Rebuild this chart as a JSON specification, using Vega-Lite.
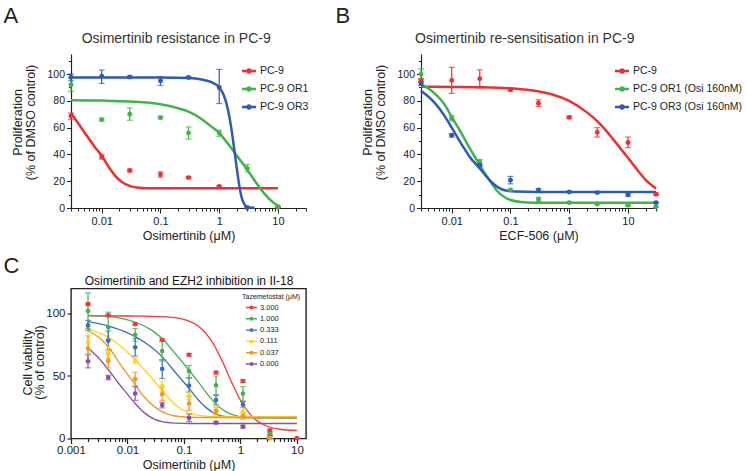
{
"$schema": "https://vega.github.io/schema/vega-lite/v6.json",
"background": "white",
"padding": {"left": 2, "top": 4, "right": 5, "bottom": 5},
"config": {"font": "Liberation Sans", "view": {"stroke": null},
  "axis": {"grid": false, "labelFont": "Liberation Sans", "titleFont": "Liberation Sans", "labelColor": "#222", "titleColor": "#222", "titleFontWeight": "normal", "domainColor": "#222", "tickColor": "#222"},
  "legend": {"labelFont": "Liberation Sans", "titleFont": "Liberation Sans", "labelColor": "#222", "titleColor": "#222"}},
"datasets": {
"aCurve": [
{"s":"PC-9","x":0.003,"y":71},{"s":"PC-9","x":0.005,"y":57},{"s":"PC-9","x":0.0075,"y":46},{"s":"PC-9","x":0.01,"y":39},{"s":"PC-9","x":0.013,"y":31},{"s":"PC-9","x":0.017,"y":24},{"s":"PC-9","x":0.022,"y":19.5},{"s":"PC-9","x":0.03,"y":16.5},{"s":"PC-9","x":0.04,"y":15.3},{"s":"PC-9","x":0.06,"y":14.8},{"s":"PC-9","x":0.1,"y":14.7},{"s":"PC-9","x":1,"y":14.7},{"s":"PC-9","x":10,"y":14.7},
{"s":"PC-9 OR1","x":0.003,"y":80.5},{"s":"PC-9 OR1","x":0.01,"y":80.2},{"s":"PC-9 OR1","x":0.03,"y":79.5},{"s":"PC-9 OR1","x":0.1,"y":77.5},{"s":"PC-9 OR1","x":0.2,"y":74.5},{"s":"PC-9 OR1","x":0.3,"y":72},{"s":"PC-9 OR1","x":0.5,"y":66.5},{"s":"PC-9 OR1","x":0.7,"y":61.5},{"s":"PC-9 OR1","x":1,"y":56},{"s":"PC-9 OR1","x":1.5,"y":46.5},{"s":"PC-9 OR1","x":2,"y":39},{"s":"PC-9 OR1","x":3,"y":28.5},{"s":"PC-9 OR1","x":4,"y":20.5},{"s":"PC-9 OR1","x":5,"y":14.5},{"s":"PC-9 OR1","x":7,"y":7},{"s":"PC-9 OR1","x":10,"y":1.5},
{"s":"PC-9 OR3","x":0.003,"y":97.5},{"s":"PC-9 OR3","x":0.1,"y":97.4},{"s":"PC-9 OR3","x":0.3,"y":97},{"s":"PC-9 OR3","x":0.5,"y":96},{"s":"PC-9 OR3","x":0.7,"y":94.3},{"s":"PC-9 OR3","x":1,"y":90},{"s":"PC-9 OR3","x":1.2,"y":84},{"s":"PC-9 OR3","x":1.4,"y":74},{"s":"PC-9 OR3","x":1.6,"y":60},{"s":"PC-9 OR3","x":1.8,"y":44},{"s":"PC-9 OR3","x":2,"y":29},{"s":"PC-9 OR3","x":2.2,"y":16.5},{"s":"PC-9 OR3","x":2.4,"y":8},{"s":"PC-9 OR3","x":2.7,"y":2.5},{"s":"PC-9 OR3","x":3,"y":0.8},{"s":"PC-9 OR3","x":4,"y":0.2}
],
"aPts": [
{"s":"PC-9","x":0.003,"y":68.6,"lo":66,"hi":71},{"s":"PC-9","x":0.01,"y":38.3,"lo":36.5,"hi":40},{"s":"PC-9","x":0.03,"y":28,"lo":27,"hi":29},{"s":"PC-9","x":0.1,"y":25,"lo":23,"hi":27},{"s":"PC-9","x":0.3,"y":22.7,"lo":22,"hi":23.4},{"s":"PC-9","x":1,"y":16,"lo":15.3,"hi":16.7},{"s":"PC-9","x":3,"y":0.3,"lo":0,"hi":0.6},{"s":"PC-9","x":10,"y":0.5,"lo":0,"hi":1},
{"s":"PC-9 OR1","x":0.003,"y":92,"lo":87,"hi":97},{"s":"PC-9 OR1","x":0.01,"y":66,"lo":65,"hi":67},{"s":"PC-9 OR1","x":0.03,"y":70,"lo":65.5,"hi":74.8},{"s":"PC-9 OR1","x":0.1,"y":67.5,"lo":66.5,"hi":68.5},{"s":"PC-9 OR1","x":0.3,"y":56,"lo":51.5,"hi":60.5},{"s":"PC-9 OR1","x":1,"y":56,"lo":53.5,"hi":58},{"s":"PC-9 OR1","x":3,"y":29.6,"lo":27,"hi":32.5},{"s":"PC-9 OR1","x":10,"y":1,"lo":0.5,"hi":1.5},
{"s":"PC-9 OR3","x":0.003,"y":97.6,"lo":95,"hi":100},{"s":"PC-9 OR3","x":0.01,"y":98.5,"lo":93,"hi":103},{"s":"PC-9 OR3","x":0.03,"y":97.8,"lo":97,"hi":98.6},{"s":"PC-9 OR3","x":0.1,"y":95,"lo":91.5,"hi":98},{"s":"PC-9 OR3","x":0.3,"y":97.5,"lo":96.8,"hi":98.2},{"s":"PC-9 OR3","x":1,"y":90,"lo":78,"hi":103.5},{"s":"PC-9 OR3","x":3,"y":0.3,"lo":0,"hi":0.6}
],
"bCurve": [
{"s":"PC-9","x":0.003,"y":90.5},{"s":"PC-9","x":0.01,"y":90.4},{"s":"PC-9","x":0.03,"y":90.2},{"s":"PC-9","x":0.1,"y":89.4},{"s":"PC-9","x":0.3,"y":87.1},{"s":"PC-9","x":0.5,"y":85},{"s":"PC-9","x":1,"y":80},{"s":"PC-9","x":2,"y":71.4},{"s":"PC-9","x":3,"y":64.8},{"s":"PC-9","x":5,"y":54},{"s":"PC-9","x":7,"y":46},{"s":"PC-9","x":10,"y":37.5},{"s":"PC-9","x":15,"y":27.5},{"s":"PC-9","x":20,"y":21},{"s":"PC-9","x":30,"y":14.5},
{"s":"PC-9 OR1 (Osi 160nM)","x":0.003,"y":92.5},{"s":"PC-9 OR1 (Osi 160nM)","x":0.005,"y":86},{"s":"PC-9 OR1 (Osi 160nM)","x":0.0075,"y":77.5},{"s":"PC-9 OR1 (Osi 160nM)","x":0.01,"y":68},{"s":"PC-9 OR1 (Osi 160nM)","x":0.015,"y":55},{"s":"PC-9 OR1 (Osi 160nM)","x":0.02,"y":45},{"s":"PC-9 OR1 (Osi 160nM)","x":0.03,"y":32},{"s":"PC-9 OR1 (Osi 160nM)","x":0.045,"y":20},{"s":"PC-9 OR1 (Osi 160nM)","x":0.06,"y":12.5},{"s":"PC-9 OR1 (Osi 160nM)","x":0.08,"y":8},{"s":"PC-9 OR1 (Osi 160nM)","x":0.1,"y":6},{"s":"PC-9 OR1 (Osi 160nM)","x":0.15,"y":4.5},{"s":"PC-9 OR1 (Osi 160nM)","x":0.25,"y":4},{"s":"PC-9 OR1 (Osi 160nM)","x":1,"y":3.9},{"s":"PC-9 OR1 (Osi 160nM)","x":30,"y":3.9},
{"s":"PC-9 OR3 (Osi 160nM)","x":0.003,"y":87.5},{"s":"PC-9 OR3 (Osi 160nM)","x":0.005,"y":79},{"s":"PC-9 OR3 (Osi 160nM)","x":0.0075,"y":69},{"s":"PC-9 OR3 (Osi 160nM)","x":0.01,"y":60},{"s":"PC-9 OR3 (Osi 160nM)","x":0.015,"y":47},{"s":"PC-9 OR3 (Osi 160nM)","x":0.02,"y":38.5},{"s":"PC-9 OR3 (Osi 160nM)","x":0.03,"y":29.5},{"s":"PC-9 OR3 (Osi 160nM)","x":0.04,"y":23},{"s":"PC-9 OR3 (Osi 160nM)","x":0.05,"y":18.5},{"s":"PC-9 OR3 (Osi 160nM)","x":0.065,"y":14.8},{"s":"PC-9 OR3 (Osi 160nM)","x":0.08,"y":13.2},{"s":"PC-9 OR3 (Osi 160nM)","x":0.12,"y":12.3},{"s":"PC-9 OR3 (Osi 160nM)","x":0.3,"y":12},{"s":"PC-9 OR3 (Osi 160nM)","x":30,"y":12}
],
"bPts": [
{"s":"PC-9","x":0.003,"y":95.1,"lo":93.6,"hi":96.6},{"s":"PC-9","x":0.01,"y":95.3,"lo":85.6,"hi":105},{"s":"PC-9","x":0.03,"y":96.6,"lo":89.7,"hi":103.2},{"s":"PC-9","x":0.1,"y":88.3,"lo":87.3,"hi":89.3},{"s":"PC-9","x":0.3,"y":78.3,"lo":75.8,"hi":80.8},{"s":"PC-9","x":1,"y":67.7,"lo":66.7,"hi":68.7},{"s":"PC-9","x":3,"y":56.5,"lo":53,"hi":60},{"s":"PC-9","x":10,"y":49,"lo":45,"hi":53},{"s":"PC-9","x":30,"y":10.3,"lo":9.5,"hi":11.1},
{"s":"PC-9 OR1 (Osi 160nM)","x":0.003,"y":100,"lo":96,"hi":104},{"s":"PC-9 OR1 (Osi 160nM)","x":0.01,"y":67,"lo":65,"hi":69},{"s":"PC-9 OR1 (Osi 160nM)","x":0.03,"y":34.6,"lo":33,"hi":36.2},{"s":"PC-9 OR1 (Osi 160nM)","x":0.1,"y":13.5,"lo":12.8,"hi":14.2},{"s":"PC-9 OR1 (Osi 160nM)","x":0.3,"y":6.5,"lo":5,"hi":8},{"s":"PC-9 OR1 (Osi 160nM)","x":1,"y":4,"lo":3.5,"hi":4.5},{"s":"PC-9 OR1 (Osi 160nM)","x":3,"y":3,"lo":2.5,"hi":3.5},{"s":"PC-9 OR1 (Osi 160nM)","x":10,"y":2,"lo":1.5,"hi":2.5},{"s":"PC-9 OR1 (Osi 160nM)","x":30,"y":0.8,"lo":0.4,"hi":1.2},
{"s":"PC-9 OR3 (Osi 160nM)","x":0.003,"y":93,"lo":91.5,"hi":94.5},{"s":"PC-9 OR3 (Osi 160nM)","x":0.01,"y":54.3,"lo":53,"hi":55.6},{"s":"PC-9 OR3 (Osi 160nM)","x":0.03,"y":32,"lo":31,"hi":33},{"s":"PC-9 OR3 (Osi 160nM)","x":0.1,"y":20.8,"lo":18,"hi":23.6},{"s":"PC-9 OR3 (Osi 160nM)","x":0.3,"y":13.5,"lo":12.5,"hi":14.5},{"s":"PC-9 OR3 (Osi 160nM)","x":1,"y":12,"lo":11.5,"hi":12.5},{"s":"PC-9 OR3 (Osi 160nM)","x":3,"y":11.5,"lo":11,"hi":12},{"s":"PC-9 OR3 (Osi 160nM)","x":10,"y":9.8,"lo":9,"hi":10.6},{"s":"PC-9 OR3 (Osi 160nM)","x":30,"y":4,"lo":3.5,"hi":4.5}
],
"cCurve": [
{"s":"3.000","x":0.002,"y":98.2},{"s":"3.000","x":0.01,"y":98},{"s":"3.000","x":0.02,"y":97.9},{"s":"3.000","x":0.05,"y":97.3},{"s":"3.000","x":0.1,"y":95.3},{"s":"3.000","x":0.2,"y":88.2},{"s":"3.000","x":0.3,"y":78.9},{"s":"3.000","x":0.5,"y":59.9},{"s":"3.000","x":0.7,"y":44.9},{"s":"3.000","x":1,"y":30.6},{"s":"3.000","x":1.5,"y":19.1},{"s":"3.000","x":2,"y":13.9},{"s":"3.000","x":3,"y":9.8},{"s":"3.000","x":5,"y":7.4},{"s":"3.000","x":10,"y":6.4},
{"s":"1.000","x":0.002,"y":98.5},{"s":"1.000","x":0.005,"y":97.5},{"s":"1.000","x":0.0137,"y":93},{"s":"1.000","x":0.025,"y":87.5},{"s":"1.000","x":0.041,"y":80},{"s":"1.000","x":0.07,"y":68},{"s":"1.000","x":0.121,"y":55},{"s":"1.000","x":0.178,"y":45.5},{"s":"1.000","x":0.25,"y":36.5},{"s":"1.000","x":0.37,"y":27.5},{"s":"1.000","x":0.55,"y":21.5},{"s":"1.000","x":0.8,"y":18.5},{"s":"1.000","x":1.2,"y":17},{"s":"1.000","x":2,"y":16.6},{"s":"1.000","x":10,"y":16.5},
{"s":"0.333","x":0.002,"y":93.5},{"s":"0.333","x":0.005,"y":89.5},{"s":"0.333","x":0.0137,"y":81.5},{"s":"0.333","x":0.025,"y":74},{"s":"0.333","x":0.041,"y":65.5},{"s":"0.333","x":0.07,"y":53},{"s":"0.333","x":0.121,"y":40.5},{"s":"0.333","x":0.178,"y":31},{"s":"0.333","x":0.25,"y":24.5},{"s":"0.333","x":0.37,"y":19.5},{"s":"0.333","x":0.6,"y":17.3},{"s":"0.333","x":1,"y":16.7},{"s":"0.333","x":10,"y":16.5},
{"s":"0.111","x":0.002,"y":87.5},{"s":"0.111","x":0.005,"y":80},{"s":"0.111","x":0.0137,"y":63},{"s":"0.111","x":0.025,"y":50},{"s":"0.111","x":0.041,"y":38.5},{"s":"0.111","x":0.07,"y":27},{"s":"0.111","x":0.121,"y":20.5},{"s":"0.111","x":0.2,"y":18.3},{"s":"0.111","x":0.4,"y":17.6},{"s":"0.111","x":10,"y":17.5},
{"s":"0.037","x":0.002,"y":86},{"s":"0.037","x":0.0035,"y":79},{"s":"0.037","x":0.005,"y":71},{"s":"0.037","x":0.008,"y":57.5},{"s":"0.037","x":0.0137,"y":43},{"s":"0.037","x":0.02,"y":33},{"s":"0.037","x":0.03,"y":25.5},{"s":"0.037","x":0.041,"y":21.5},{"s":"0.037","x":0.07,"y":18},{"s":"0.037","x":0.121,"y":17},{"s":"0.037","x":0.3,"y":16.8},{"s":"0.037","x":10,"y":16.8},
{"s":"0.000","x":0.002,"y":72.5},{"s":"0.000","x":0.003,"y":65},{"s":"0.000","x":0.0046,"y":55},{"s":"0.000","x":0.007,"y":44},{"s":"0.000","x":0.01,"y":35.5},{"s":"0.000","x":0.0137,"y":28},{"s":"0.000","x":0.02,"y":20.5},{"s":"0.000","x":0.03,"y":15.5},{"s":"0.000","x":0.041,"y":13.5},{"s":"0.000","x":0.07,"y":12.3},{"s":"0.000","x":0.12,"y":12},{"s":"0.000","x":10,"y":12}
],
"cPts": [
{"s":"3.000","x":0.002,"y":107.5,"lo":106.5,"hi":108.5},{"s":"3.000","x":0.00457,"y":98.5,"lo":97.5,"hi":99.5},{"s":"3.000","x":0.0137,"y":91.5,"lo":90.5,"hi":92.5},{"s":"3.000","x":0.0412,"y":78.8,"lo":77.8,"hi":79.8},{"s":"3.000","x":0.123,"y":67,"lo":66,"hi":68},{"s":"3.000","x":0.37,"y":52.8,"lo":51.8,"hi":53.8},{"s":"3.000","x":1.11,"y":46,"lo":45,"hi":47},{"s":"3.000","x":3.33,"y":6.5,"lo":5.5,"hi":7.5},{"s":"3.000","x":10,"y":0.3,"lo":0,"hi":0.6},
{"s":"1.000","x":0.002,"y":102,"lo":88,"hi":116.5},{"s":"1.000","x":0.00457,"y":89,"lo":78.7,"hi":101},{"s":"1.000","x":0.0137,"y":83,"lo":78,"hi":88},{"s":"1.000","x":0.0412,"y":70,"lo":62,"hi":78},{"s":"1.000","x":0.123,"y":54,"lo":48.5,"hi":58.5},{"s":"1.000","x":0.37,"y":42.6,"lo":35,"hi":50},{"s":"1.000","x":1.11,"y":36,"lo":30,"hi":41.5},{"s":"1.000","x":3.33,"y":3.5,"lo":2.5,"hi":4.5},
{"s":"0.333","x":0.002,"y":90.5,"lo":86.5,"hi":94.5},{"s":"0.333","x":0.00457,"y":78.3,"lo":71,"hi":86},{"s":"0.333","x":0.0137,"y":73,"lo":66,"hi":80},{"s":"0.333","x":0.0412,"y":55.7,"lo":48,"hi":63},{"s":"0.333","x":0.123,"y":42.3,"lo":37,"hi":48.5},{"s":"0.333","x":0.37,"y":30.8,"lo":27,"hi":34.5},{"s":"0.333","x":1.11,"y":27.2,"lo":25,"hi":29.5},{"s":"0.333","x":3.33,"y":1.4,"lo":0.5,"hi":2.3},
{"s":"0.111","x":0.002,"y":77,"lo":68,"hi":86},{"s":"0.111","x":0.00457,"y":69,"lo":64,"hi":74},{"s":"0.111","x":0.0137,"y":62.3,"lo":60,"hi":64.5},{"s":"0.111","x":0.0412,"y":42,"lo":38,"hi":46},{"s":"0.111","x":0.123,"y":34,"lo":31,"hi":37},{"s":"0.111","x":0.37,"y":23.5,"lo":20.5,"hi":26.5},{"s":"0.111","x":1.11,"y":21.5,"lo":18.5,"hi":24.5},{"s":"0.111","x":3.33,"y":0.5,"lo":0,"hi":1},
{"s":"0.037","x":0.002,"y":72,"lo":62,"hi":82},{"s":"0.037","x":0.00457,"y":62,"lo":56.5,"hi":67.5},{"s":"0.037","x":0.0137,"y":47.5,"lo":42,"hi":53},{"s":"0.037","x":0.0412,"y":35.5,"lo":30.5,"hi":40.5},{"s":"0.037","x":0.123,"y":28,"lo":22.5,"hi":33.5},{"s":"0.037","x":0.37,"y":22,"lo":19,"hi":25},{"s":"0.037","x":1.11,"y":18,"lo":15.5,"hi":20.5},{"s":"0.037","x":3.33,"y":0.3,"lo":0,"hi":0.6},
{"s":"0.000","x":0.002,"y":61.8,"lo":56.5,"hi":67},{"s":"0.000","x":0.00457,"y":48.8,"lo":47,"hi":50.6},{"s":"0.000","x":0.0137,"y":36,"lo":30.5,"hi":41.5},{"s":"0.000","x":0.0412,"y":26.8,"lo":24.5,"hi":29},{"s":"0.000","x":0.123,"y":16.5,"lo":13.5,"hi":19.5},{"s":"0.000","x":0.37,"y":12.7,"lo":12,"hi":13.4},{"s":"0.000","x":1.11,"y":9.5,"lo":8.5,"hi":10.5}
]
},
"resolve": {"scale": {"color": "independent"}, "legend": {"color": "independent"}},
"bounds": "flush",
"columns": 2,
"spacing": {"row": 80.5, "column": 115},
"concat": [
{
"width": 235, "height": 154,
"resolve": {"axis": {"x": "independent", "y": "independent"}},
"layer": [
{"data": {"name": "aCurve"}, "mark": {"type": "line", "interpolate": "monotone", "strokeWidth": 2.5},
 "encoding": {
  "x": {"field": "x", "type": "quantitative", "scale": {"type": "log", "domain": [0.003, 30], "nice": false},
   "axis": {"values": [0.003,0.004,0.005,0.006,0.007,0.008,0.009,0.01,0.02,0.03,0.04,0.05,0.06,0.07,0.08,0.09,0.1,0.2,0.3,0.4,0.5,0.6,0.7,0.8,0.9,1,2,3,4,5,6,7,8,9,10,20,30],
    "labelExpr": "datum.value == 0.01 ? '0.01' : datum.value == 0.1 ? '0.1' : datum.value == 1 ? '1' : datum.value == 10 ? '10' : ''",
    "tickSize": {"condition": {"test": "datum.value == 0.01 || datum.value == 0.1 || datum.value == 1 || datum.value == 10", "value": 5}, "value": 3},
    "labelOverlap": false, "labelFlush": false, "labelBound": false, "labelFontSize": 11, "labelPadding": 2,
    "title": "Osimertinib (μM)", "titleFontSize": 12.5, "titlePadding": 3, "domainWidth": 1.2, "tickWidth": 1}},
  "y": {"field": "y", "type": "quantitative", "scale": {"domain": [0, 115], "nice": false},
   "axis": {"orient": "left", "values": [0,10,20,30,40,50,60,70,80,90,100,110], "labelExpr": "datum.value % 20 == 0 ? datum.label : ''",
    "tickSize": {"condition": {"test": "datum.value % 20 == 0", "value": 4.5}, "value": 2.5},
    "labelOverlap": false, "labelFontSize": 10.5, "labelPadding": 2, "title": ["Proliferation", "(% of DMSO control)"], "titleFontSize": 12.5, "titleLineHeight": 13.5,
    "titleX": -60, "titleY": 68, "titleAngle": -90, "titleAlign": "center", "titleBaseline": "top", "domainWidth": 1.2, "tickWidth": 1}},
  "color": {"field": "s", "type": "nominal", "scale": {"domain": ["PC-9", "PC-9 OR1", "PC-9 OR3"], "range": ["#ed2f2f", "#3fb449", "#2b5bb4"]},
   "legend": {"title": null, "orient": "none", "legendX": 172, "legendY": 11, "padding": 0, "labelFontSize": 10.5, "symbolType": "M-1.5,0H1.5M-0.3,0A0.3,0.3,0,1,0,0.3,0A0.3,0.3,0,1,0,-0.3,0", "symbolSize": 87, "symbolStrokeWidth": 2.5, "labelOffset": 5, "rowPadding": 4}}
 }},
{"data": {"name": "aPts"}, "mark": {"type": "errorbar", "ticks": true, "size": 6, "thickness": 1.2},
 "encoding": {
  "x": {"field": "x", "type": "quantitative", "axis": {"orient": "top", "domain": false, "ticks": false, "labels": false, "title": "Osimertinib resistance in PC-9", "titleX": 104.7, "titleY": -12, "titleAlign": "center", "titleBaseline": "alphabetic", "titleAngle": 0, "titleFontSize": 14, "titleColor": "#333"}},
  "y": {"field": "lo", "type": "quantitative", "axis": null},
  "y2": {"field": "hi"},
  "color": {"field": "s", "type": "nominal", "legend": null}
 }},
{"data": {"name": "aPts"}, "mark": {"type": "circle", "size": 24, "opacity": 1},
 "encoding": {
  "x": {"field": "x", "type": "quantitative", "axis": {"orient": "top", "domain": false, "ticks": false, "labels": false, "title": "A", "titleX": -68, "titleY": -31.3, "titleAlign": "left", "titleBaseline": "alphabetic", "titleAngle": 0, "titleFontSize": 22}},
  "y": {"field": "y", "type": "quantitative", "axis": null},
  "color": {"field": "s", "type": "nominal", "legend": null}
 }}
]
},
{
"width": 235, "height": 154,
"resolve": {"axis": {"x": "independent", "y": "independent"}},
"layer": [
{"data": {"name": "bCurve"}, "mark": {"type": "line", "interpolate": "monotone", "strokeWidth": 2.5},
 "encoding": {
  "x": {"field": "x", "type": "quantitative", "scale": {"type": "log", "domain": [0.003, 30], "nice": false},
   "axis": {"values": [0.003,0.004,0.005,0.006,0.007,0.008,0.009,0.01,0.02,0.03,0.04,0.05,0.06,0.07,0.08,0.09,0.1,0.2,0.3,0.4,0.5,0.6,0.7,0.8,0.9,1,2,3,4,5,6,7,8,9,10,20,30],
    "labelExpr": "datum.value == 0.01 ? '0.01' : datum.value == 0.1 ? '0.1' : datum.value == 1 ? '1' : datum.value == 10 ? '10' : ''",
    "tickSize": {"condition": {"test": "datum.value == 0.01 || datum.value == 0.1 || datum.value == 1 || datum.value == 10", "value": 5}, "value": 3},
    "labelOverlap": false, "labelFlush": false, "labelBound": false, "labelFontSize": 11, "labelPadding": 2,
    "title": "ECF-506 (μM)", "titleFontSize": 12.5, "titlePadding": 3, "domainWidth": 1.2, "tickWidth": 1}},
  "y": {"field": "y", "type": "quantitative", "scale": {"domain": [0, 115], "nice": false},
   "axis": {"orient": "left", "values": [0,10,20,30,40,50,60,70,80,90,100,110], "labelExpr": "datum.value % 20 == 0 ? datum.label : ''",
    "tickSize": {"condition": {"test": "datum.value % 20 == 0", "value": 4.5}, "value": 2.5},
    "labelOverlap": false, "labelFontSize": 10.5, "labelPadding": 2, "title": ["Proliferation", "(% of DMSO control)"], "titleFontSize": 12.5, "titleLineHeight": 13.5,
    "titleX": -60, "titleY": 68, "titleAngle": -90, "titleAlign": "center", "titleBaseline": "top", "domainWidth": 1.2, "tickWidth": 1}},
  "color": {"field": "s", "type": "nominal", "scale": {"domain": ["PC-9", "PC-9 OR1 (Osi 160nM)", "PC-9 OR3 (Osi 160nM)"], "range": ["#ed2f2f", "#3fb449", "#2b5bb4"]},
   "legend": {"title": null, "orient": "none", "legendX": 195, "legendY": 11, "padding": 0, "labelFontSize": 10.5, "labelLimit": 300, "symbolType": "M-1.5,0H1.5M-0.3,0A0.3,0.3,0,1,0,0.3,0A0.3,0.3,0,1,0,-0.3,0", "symbolSize": 87, "symbolStrokeWidth": 2.5, "labelOffset": 5, "rowPadding": 4}}
 }},
{"data": {"name": "bPts"}, "mark": {"type": "errorbar", "ticks": true, "size": 6, "thickness": 1.2},
 "encoding": {
  "x": {"field": "x", "type": "quantitative", "axis": {"orient": "top", "domain": false, "ticks": false, "labels": false, "title": "Osimertinib re-sensitisation in PC-9", "titleX": 103.3, "titleY": -12, "titleAlign": "center", "titleBaseline": "alphabetic", "titleAngle": 0, "titleFontSize": 14, "titleColor": "#333"}},
  "y": {"field": "lo", "type": "quantitative", "axis": null},
  "y2": {"field": "hi"},
  "color": {"field": "s", "type": "nominal", "legend": null}
 }},
{"data": {"name": "bPts"}, "mark": {"type": "circle", "size": 24, "opacity": 1},
 "encoding": {
  "x": {"field": "x", "type": "quantitative", "axis": {"orient": "top", "domain": false, "ticks": false, "labels": false, "title": "B", "titleX": -86, "titleY": -31.3, "titleAlign": "left", "titleBaseline": "alphabetic", "titleAngle": 0, "titleFontSize": 22}},
  "y": {"field": "y", "type": "quantitative", "axis": null},
  "color": {"field": "s", "type": "nominal", "legend": null}
 }}
]
},
{
"width": 235, "height": 150,
"view": {"stroke": "#222", "strokeWidth": 1.4},
"resolve": {"axis": {"x": "independent", "y": "independent"}},
"layer": [
{"data": {"name": "cCurve"}, "mark": {"type": "line", "interpolate": "monotone", "strokeWidth": 1.3},
 "encoding": {
  "x": {"field": "x", "type": "quantitative", "scale": {"type": "log", "domain": [0.001, 14.5], "nice": false},
   "axis": {"values": [0.001,0.002,0.003,0.004,0.005,0.006,0.007,0.008,0.009,0.01,0.02,0.03,0.04,0.05,0.06,0.07,0.08,0.09,0.1,0.2,0.3,0.4,0.5,0.6,0.7,0.8,0.9,1,2,3,4,5,6,7,8,9,10],
    "labelExpr": "datum.value == 0.001 ? '0.001' : datum.value == 0.01 ? '0.01' : datum.value == 0.1 ? '0.1' : datum.value == 1 ? '1' : datum.value == 10 ? '10' : ''",
    "tickSize": {"condition": {"test": "datum.value == 0.001 || datum.value == 0.01 || datum.value == 0.1 || datum.value == 1 || datum.value == 10", "value": 5}, "value": 3},
    "domain": false, "labelOverlap": false, "labelFlush": false, "labelBound": false, "labelFontSize": 11.5, "labelPadding": 1,
    "title": "Osimertinib (μM)", "titleFontSize": 12.5, "titlePadding": 2, "tickWidth": 1.2}},
  "y": {"field": "y", "type": "quantitative", "scale": {"domain": [0, 120], "nice": false},
   "axis": {"orient": "left", "values": [0, 50, 100], "domain": false, "tickSize": 4, "tickWidth": 1.2, "labelFontSize": 11.5, "labelPadding": 2,
    "title": ["Cell viability", "(% of control)"], "titleFontSize": 12.5, "titleLineHeight": 12.5,
    "titleX": -50, "titleY": 73.5, "titleAngle": -90, "titleAlign": "center", "titleBaseline": "top"}},
  "color": {"field": "s", "type": "nominal", "scale": {"domain": ["3.000", "1.000", "0.333", "0.111", "0.037", "0.000"], "range": ["#f03a3a", "#44b14a", "#3b6fc0", "#ffd21a", "#f7941d", "#8a4fa6"]},
   "legend": {"title": "Tazemetostat (μM)", "titleFontSize": 7, "titleFontWeight": "normal", "titlePadding": 3, "orient": "none", "legendX": 171, "legendY": 4.5, "padding": 0, "labelFontSize": 7.5, "symbolType": "M-1.5,0H1.5M-0.34,0A0.34,0.34,0,1,0,0.34,0A0.34,0.34,0,1,0,-0.34,0", "symbolSize": 54, "symbolStrokeWidth": 1.4, "symbolOffset": 5, "labelOffset": 4, "rowPadding": 2.3}}
 }},
{"data": {"name": "cPts"}, "mark": {"type": "errorbar", "ticks": true, "size": 6, "thickness": 1.2},
 "encoding": {
  "x": {"field": "x", "type": "quantitative", "axis": {"orient": "top", "domain": false, "ticks": false, "labels": false, "title": "Osimertinib and EZH2 inhibition in II-18", "titleX": 117.5, "titleY": -4, "titleAlign": "center", "titleBaseline": "alphabetic", "titleAngle": 0, "titleFontSize": 12, "titleColor": "#111"}},
  "y": {"field": "lo", "type": "quantitative", "axis": null},
  "y2": {"field": "hi"},
  "color": {"field": "s", "type": "nominal", "legend": null}
 }},
{"data": {"name": "cPts"}, "mark": {"type": "circle", "size": 22, "opacity": 1},
 "encoding": {
  "x": {"field": "x", "type": "quantitative", "axis": {"orient": "top", "domain": false, "ticks": false, "labels": false, "title": "C", "titleX": -68, "titleY": -15.8, "titleAlign": "left", "titleBaseline": "alphabetic", "titleAngle": 0, "titleFontSize": 22}},
  "y": {"field": "y", "type": "quantitative", "axis": null},
  "color": {"field": "s", "type": "nominal", "legend": null}
 }}
]
}
]
}
